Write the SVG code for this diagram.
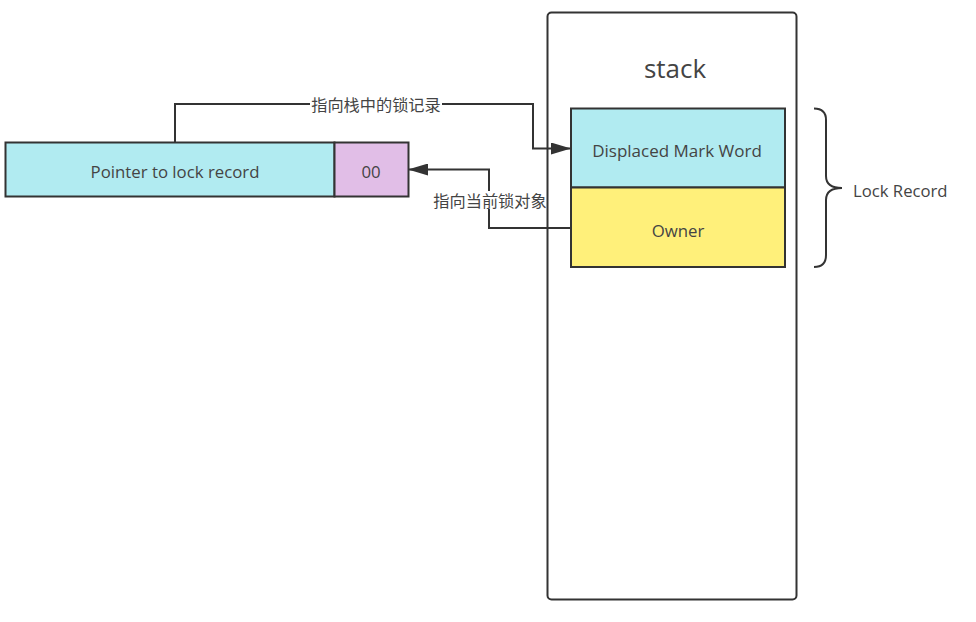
<svg xmlns="http://www.w3.org/2000/svg" width="976" height="622" viewBox="0 0 976 622">
<defs>
<style>
.box{stroke:#333;stroke-width:2}
.t{font-family:"Open Sans","Noto Sans CJK SC",sans-serif;fill:#444;text-anchor:middle;dominant-baseline:central}
.lbl{font-family:"Noto Sans CJK SC",sans-serif;font-size:16.2px;fill:#444;text-anchor:middle;dominant-baseline:central}
.ln{fill:none;stroke:#333;stroke-width:2}
</style>
<marker id="arr" viewBox="0 0 20 12" refX="19" refY="6" markerWidth="20" markerHeight="12" markerUnits="userSpaceOnUse" orient="auto">
<path d="M0,0 L20,6 L0,12 Z" fill="#333"/>
</marker>
</defs>
<rect width="976" height="622" fill="#fff"/>
<g id="stack">
<rect x="547.5" y="12.5" width="249" height="587" rx="4" fill="#fff" class="box"/>
<text x="675" y="68" class="t" font-size="26">stack</text>
</g>
<g id="pointer">
<rect x="5.5" y="142.5" width="329" height="54" fill="#b1ebf1" class="box"/>
<text x="175" y="171" class="t" font-size="16.8">Pointer to lock record</text>
</g>
<g id="bits">
<rect x="334.5" y="142.5" width="74" height="54" fill="#e1bee7" class="box"/>
<text x="371" y="171" class="t" font-size="16.8">00</text>
</g>
<g id="displaced">
<rect x="571" y="108.5" width="214" height="79" fill="#b1ebf1" class="box"/>
<text x="677" y="150" class="t" font-size="17">Displaced Mark Word</text>
</g>
<g id="owner">
<rect x="571" y="187.5" width="214" height="79.5" fill="#fff07a" class="box"/>
<text x="678" y="230" class="t" font-size="16.8">Owner</text>
</g>
<g id="lockrecord">
<path d="M814,108.5 Q826,108.5 826,120 V176 Q826,188 842,188 Q826,188 826,200 V255 Q826,267 814,267" class="ln"/>
<text x="853" y="190" class="t" font-size="16.7" style="text-anchor:start">Lock Record</text>
</g>
<g id="connectors">
<path d="M175,142 V104 H533 V148.5 H570" class="ln" marker-end="url(#arr)"/>
<rect x="310" y="95" width="132" height="18" fill="#fff"/>
<text x="376" y="104" class="lbl">指向栈中的锁记录</text>
<path d="M571,228 H489 V169.5 H409" class="ln" marker-end="url(#arr)"/>
<rect x="432" y="191" width="113" height="18" fill="#fff"/>
<text x="490" y="200" class="lbl">指向当前锁对象</text>
</g>
</svg>
